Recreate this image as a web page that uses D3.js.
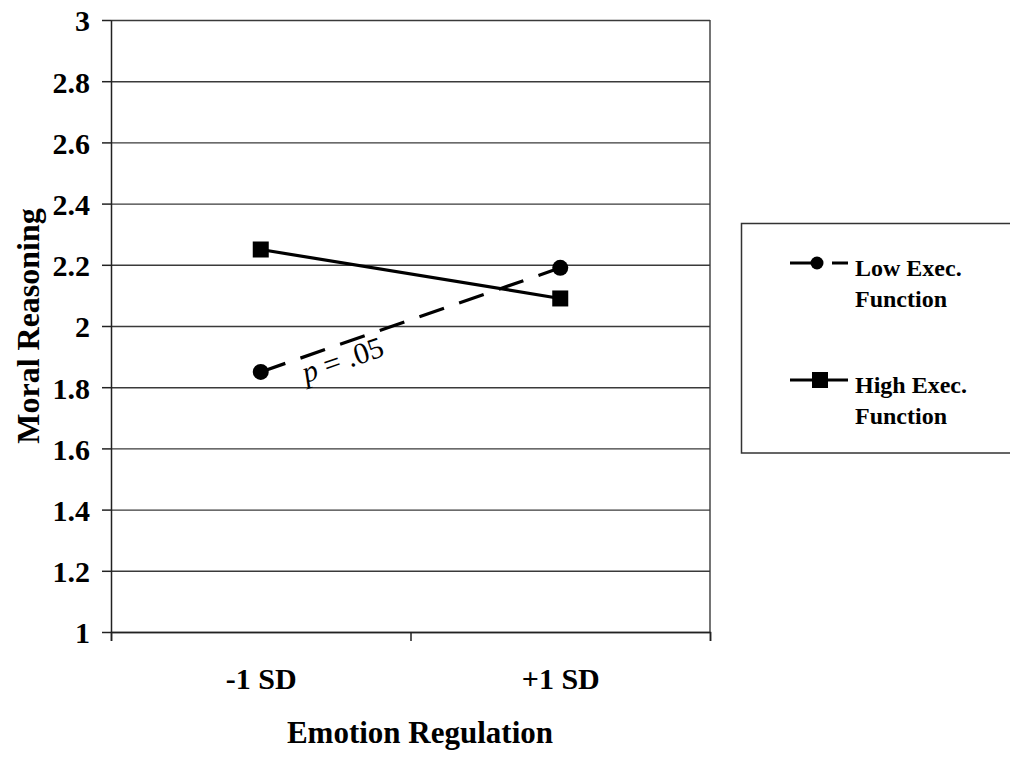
<!DOCTYPE html>
<html>
<head>
<meta charset="utf-8">
<script src="https://cdn.jsdelivr.net/npm/d3@7"></script>
<style>
  body { margin: 0; background: #fff; }
  svg text { font-family: "Liberation Serif", "Times New Roman", serif; }
</style>
</head>
<body>
<div class="chart"></div>
<script>
// data
var categories = ["-1 SD", "+1 SD"];
var lowExec = [1.85, 2.19];
var highExec = [2.25, 2.09];
var yTicks = [1, 1.2, 1.4, 1.6, 1.8, 2, 2.2, 2.4, 2.6, 2.8, 3];
var yTickLabels = ["1", "1.2", "1.4", "1.6", "1.8", "2", "2.2", "2.4", "2.6", "2.8", "3"];
var seriesNames = [["Low Exec.", "Function"], ["High Exec.", "Function"]];

(function() {
var W = 1010, H = 758;
var pL = 111, pR = 710, pT = 20, pB = 632;

var svg = d3.select(".chart").append("svg")
    .attr("width", W).attr("height", H);

var y = d3.scaleLinear().domain([1, 3]).range([pB, pT]);
var xPt = d3.scalePoint().domain(categories).range([pL, pR]).padding(0.5);
var xEdge = d3.scaleLinear().domain([0, categories.length]).range([pL, pR]);

// gridlines
svg.append("g")
    .attr("transform", "translate(" + pL + ",0)")
    .call(d3.axisLeft(y).tickValues(yTicks).tickSize(-(pR - pL)).tickFormat(""))
    .call(function(g) {
        g.select(".domain").remove();
        g.selectAll("line").attr("stroke", "#3a3a3a").attr("stroke-width", 1.4);
    });

// right border
svg.append("line")
    .attr("x1", pR).attr("x2", pR).attr("y1", pT).attr("y2", pB)
    .attr("stroke", "#3a3a3a").attr("stroke-width", 1.4);

// y axis
svg.append("g")
    .attr("transform", "translate(" + pL + ",0)")
    .call(d3.axisLeft(y).tickValues(yTicks).tickSizeInner(9).tickSizeOuter(0).tickPadding(12)
        .tickFormat(function(d, i) { return yTickLabels[i]; }))
    .call(function(g) {
        g.select(".domain").attr("stroke", "#222").attr("stroke-width", 1.5);
        g.selectAll("line").attr("stroke", "#222").attr("stroke-width", 1.5);
        g.selectAll("text")
            .attr("font-family", "Liberation Serif, Times New Roman, serif")
            .attr("font-size", "30px").attr("font-weight", "bold").attr("fill", "#000")
            .attr("dy", "0.36em");
    });

// x axis ticks at category edges
svg.append("g")
    .attr("transform", "translate(0," + pB + ")")
    .call(d3.axisBottom(xEdge).tickValues(d3.range(categories.length + 1)).tickSize(9).tickFormat(""))
    .call(function(g) {
        g.select(".domain").attr("stroke", "#222").attr("stroke-width", 1.5);
        g.selectAll("line").attr("stroke", "#222").attr("stroke-width", 1.5);
    });

// x labels
svg.append("g")
    .attr("transform", "translate(0," + pB + ")")
    .call(d3.axisBottom(xPt).tickSize(0).tickPadding(36))
    .call(function(g) {
        g.select(".domain").remove();
        g.selectAll("text")
            .attr("font-family", "Liberation Serif, Times New Roman, serif")
            .attr("font-size", "30px").attr("font-weight", "bold").attr("fill", "#000");
    });

// axis titles
svg.append("text")
    .attr("x", 420).attr("y", 743)
    .attr("text-anchor", "middle")
    .attr("font-size", "31px").attr("font-weight", "bold")
    .text("Emotion Regulation");

svg.append("text")
    .attr("transform", "translate(39," + ((pT + pB) / 2) + ") rotate(-90)")
    .attr("text-anchor", "middle")
    .attr("font-size", "32px").attr("font-weight", "bold")
    .text("Moral Reasoning");

// series
var line = d3.line()
    .x(function(d, i) { return xPt(categories[i]); })
    .y(function(d) { return y(d); });

svg.append("path").datum(lowExec)
    .attr("d", line).attr("fill", "none")
    .attr("stroke", "#000").attr("stroke-width", 3.2)
    .attr("stroke-dasharray", "26,16");

svg.append("path").datum(highExec)
    .attr("d", line).attr("fill", "none")
    .attr("stroke", "#000").attr("stroke-width", 3.2);

svg.selectAll(".low-pt").data(lowExec).enter().append("circle")
    .attr("class", "low-pt")
    .attr("cx", function(d, i) { return xPt(categories[i]); })
    .attr("cy", function(d) { return y(d); })
    .attr("r", 8).attr("fill", "#000");

var sq = 16;
svg.selectAll(".high-pt").data(highExec).enter().append("rect")
    .attr("class", "high-pt")
    .attr("x", function(d, i) { return xPt(categories[i]) - sq / 2; })
    .attr("y", function(d) { return y(d) - sq / 2; })
    .attr("width", sq).attr("height", sq).attr("fill", "#000");

// p = .05 label along the dashed line
var ang = Math.atan2(y(lowExec[1]) - y(lowExec[0]), xPt(categories[1]) - xPt(categories[0])) * 180 / Math.PI;
var pLab = svg.append("text")
    .attr("transform", "translate(306,383) rotate(" + ang + ")")
    .attr("font-size", "30px").attr("fill", "#000");
pLab.append("tspan").attr("font-style", "italic").text("p");
pLab.append("tspan").text(" = .05");

// legend
var lg = svg.append("g");
lg.append("rect")
    .attr("x", 741.5).attr("y", 223.5).attr("width", 300).attr("height", 229.5)
    .attr("fill", "#fff").attr("stroke", "#333").attr("stroke-width", 1.5);

var rows = [263, 380];
rows.forEach(function(ry, k) {
    lg.append("line")
        .attr("x1", 790).attr("x2", 848).attr("y1", ry).attr("y2", ry)
        .attr("stroke", "#000").attr("stroke-width", 3.2)
        .attr("stroke-dasharray", k === 0 ? "26,16" : null);
    if (k === 0) {
        lg.append("circle").attr("cx", 817).attr("cy", ry).attr("r", 6.5).attr("fill", "#000");
    } else {
        lg.append("rect").attr("x", 812).attr("y", ry - 8).attr("width", 16).attr("height", 16).attr("fill", "#000");
    }
    seriesNames[k].forEach(function(t, j) {
        lg.append("text")
            .attr("x", 855).attr("y", ry + 12.5 + j * 31.5)
            .attr("font-size", "24px").attr("font-weight", "bold")
            .text(t);
    });
});
})();
</script>
</body>
</html>
